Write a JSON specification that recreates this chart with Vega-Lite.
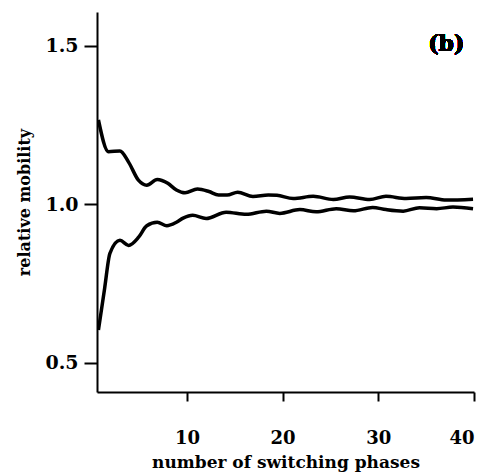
{
  "$schema": "https://vega.github.io/schema/vega-lite/v6.json",
  "width": 377,
  "height": 380,
  "autosize": "none",
  "padding": {"left": 97, "top": 12, "right": 16, "bottom": 83},
  "background": "white",
  "config": {
    "view": {"stroke": null},
    "font": "DejaVu Serif"
  },
  "data": {
    "values": [
      {"phase": 0.75, "mobility": 1.266, "curve": "upper"},
      {"phase": 1.8, "mobility": 1.166, "curve": "upper"},
      {"phase": 3.0, "mobility": 1.168, "curve": "upper"},
      {"phase": 3.9, "mobility": 1.133, "curve": "upper"},
      {"phase": 4.95, "mobility": 1.075, "curve": "upper"},
      {"phase": 5.8, "mobility": 1.06, "curve": "upper"},
      {"phase": 6.9, "mobility": 1.078, "curve": "upper"},
      {"phase": 8.0, "mobility": 1.066, "curve": "upper"},
      {"phase": 8.9, "mobility": 1.045, "curve": "upper"},
      {"phase": 9.8, "mobility": 1.036, "curve": "upper"},
      {"phase": 11.1, "mobility": 1.048, "curve": "upper"},
      {"phase": 12.3, "mobility": 1.04, "curve": "upper"},
      {"phase": 13.3, "mobility": 1.029, "curve": "upper"},
      {"phase": 14.2, "mobility": 1.029, "curve": "upper"},
      {"phase": 15.3, "mobility": 1.038, "curve": "upper"},
      {"phase": 16.9, "mobility": 1.024, "curve": "upper"},
      {"phase": 18.5, "mobility": 1.029, "curve": "upper"},
      {"phase": 19.4, "mobility": 1.028, "curve": "upper"},
      {"phase": 21.1, "mobility": 1.018, "curve": "upper"},
      {"phase": 23.2, "mobility": 1.025, "curve": "upper"},
      {"phase": 25.3, "mobility": 1.015, "curve": "upper"},
      {"phase": 27.0, "mobility": 1.023, "curve": "upper"},
      {"phase": 29.1, "mobility": 1.015, "curve": "upper"},
      {"phase": 30.8, "mobility": 1.025, "curve": "upper"},
      {"phase": 32.9, "mobility": 1.018, "curve": "upper"},
      {"phase": 35.0, "mobility": 1.021, "curve": "upper"},
      {"phase": 37.1, "mobility": 1.013, "curve": "upper"},
      {"phase": 39.9, "mobility": 1.016, "curve": "upper"},
      {"phase": 0.75, "mobility": 0.603, "curve": "lower"},
      {"phase": 1.4, "mobility": 0.735, "curve": "lower"},
      {"phase": 1.95, "mobility": 0.845, "curve": "lower"},
      {"phase": 3.0, "mobility": 0.886, "curve": "lower"},
      {"phase": 3.9, "mobility": 0.87, "curve": "lower"},
      {"phase": 4.95, "mobility": 0.896, "curve": "lower"},
      {"phase": 5.8, "mobility": 0.932, "curve": "lower"},
      {"phase": 6.9, "mobility": 0.943, "curve": "lower"},
      {"phase": 7.9, "mobility": 0.932, "curve": "lower"},
      {"phase": 8.9, "mobility": 0.943, "curve": "lower"},
      {"phase": 9.6, "mobility": 0.956, "curve": "lower"},
      {"phase": 10.6, "mobility": 0.965, "curve": "lower"},
      {"phase": 12.0, "mobility": 0.955, "curve": "lower"},
      {"phase": 14.1, "mobility": 0.975, "curve": "lower"},
      {"phase": 16.2, "mobility": 0.968, "curve": "lower"},
      {"phase": 18.3, "mobility": 0.978, "curve": "lower"},
      {"phase": 19.7, "mobility": 0.971, "curve": "lower"},
      {"phase": 21.8, "mobility": 0.983, "curve": "lower"},
      {"phase": 23.5, "mobility": 0.976, "curve": "lower"},
      {"phase": 25.6, "mobility": 0.986, "curve": "lower"},
      {"phase": 27.4, "mobility": 0.979, "curve": "lower"},
      {"phase": 29.4, "mobility": 0.99, "curve": "lower"},
      {"phase": 30.8, "mobility": 0.983, "curve": "lower"},
      {"phase": 32.6, "mobility": 0.978, "curve": "lower"},
      {"phase": 34.3, "mobility": 0.989, "curve": "lower"},
      {"phase": 36.1, "mobility": 0.986, "curve": "lower"},
      {"phase": 37.8, "mobility": 0.991, "curve": "lower"},
      {"phase": 39.9, "mobility": 0.986, "curve": "lower"}
    ]
  },
  "layer": [
    {
      "mark": {"type": "line", "color": "black", "strokeWidth": 3.5, "interpolate": "monotone", "clip": true},
      "encoding": {
        "x": {
          "field": "phase", "type": "quantitative",
          "scale": {"domain": [0.6, 40], "nice": false, "zero": false},
          "axis": {
            "values": [10, 20, 30, 40],
            "title": "number of switching phases",
            "titleFont": "DejaVu Serif", "titleFontSize": 17, "titleFontWeight": "bold", "titleColor": "black",
            "titlePadding": 7,
            "labelFont": "DejaVu Serif", "labelFontSize": 18, "labelFontWeight": "bold", "labelColor": "black",
            "labelPadding": 28,
            "domainColor": "black", "domainWidth": 2,
            "tickColor": "black", "tickWidth": 2, "tickSize": 9,
            "grid": false
          }
        },
        "y": {
          "field": "mobility", "type": "quantitative",
          "scale": {"domain": [0.407, 1.607], "nice": false, "zero": false},
          "axis": {
            "values": [0.5, 1.0, 1.5],
            "format": ".1f",
            "title": "relative mobility",
            "titleFont": "DejaVu Serif", "titleFontSize": 16, "titleFontWeight": "bold", "titleColor": "black",
            "titlePadding": 12,
            "labelFont": "DejaVu Serif", "labelFontSize": 19, "labelFontWeight": "bold", "labelColor": "black",
            "labelPadding": 6,
            "domainColor": "black", "domainWidth": 2,
            "tickColor": "black", "tickWidth": 2, "tickSize": 13,
            "grid": false
          }
        },
        "detail": {"field": "curve", "type": "nominal"}
      }
    },
    {
      "mark": {"type": "text", "text": "(b)", "font": "DejaVu Serif", "fontSize": 22, "fontWeight": "bold", "color": "black", "align": "center", "baseline": "middle"},
      "encoding": {
        "x": {"datum": 37.1},
        "y": {"datum": 1.505}
      }
    }
  ]
}
